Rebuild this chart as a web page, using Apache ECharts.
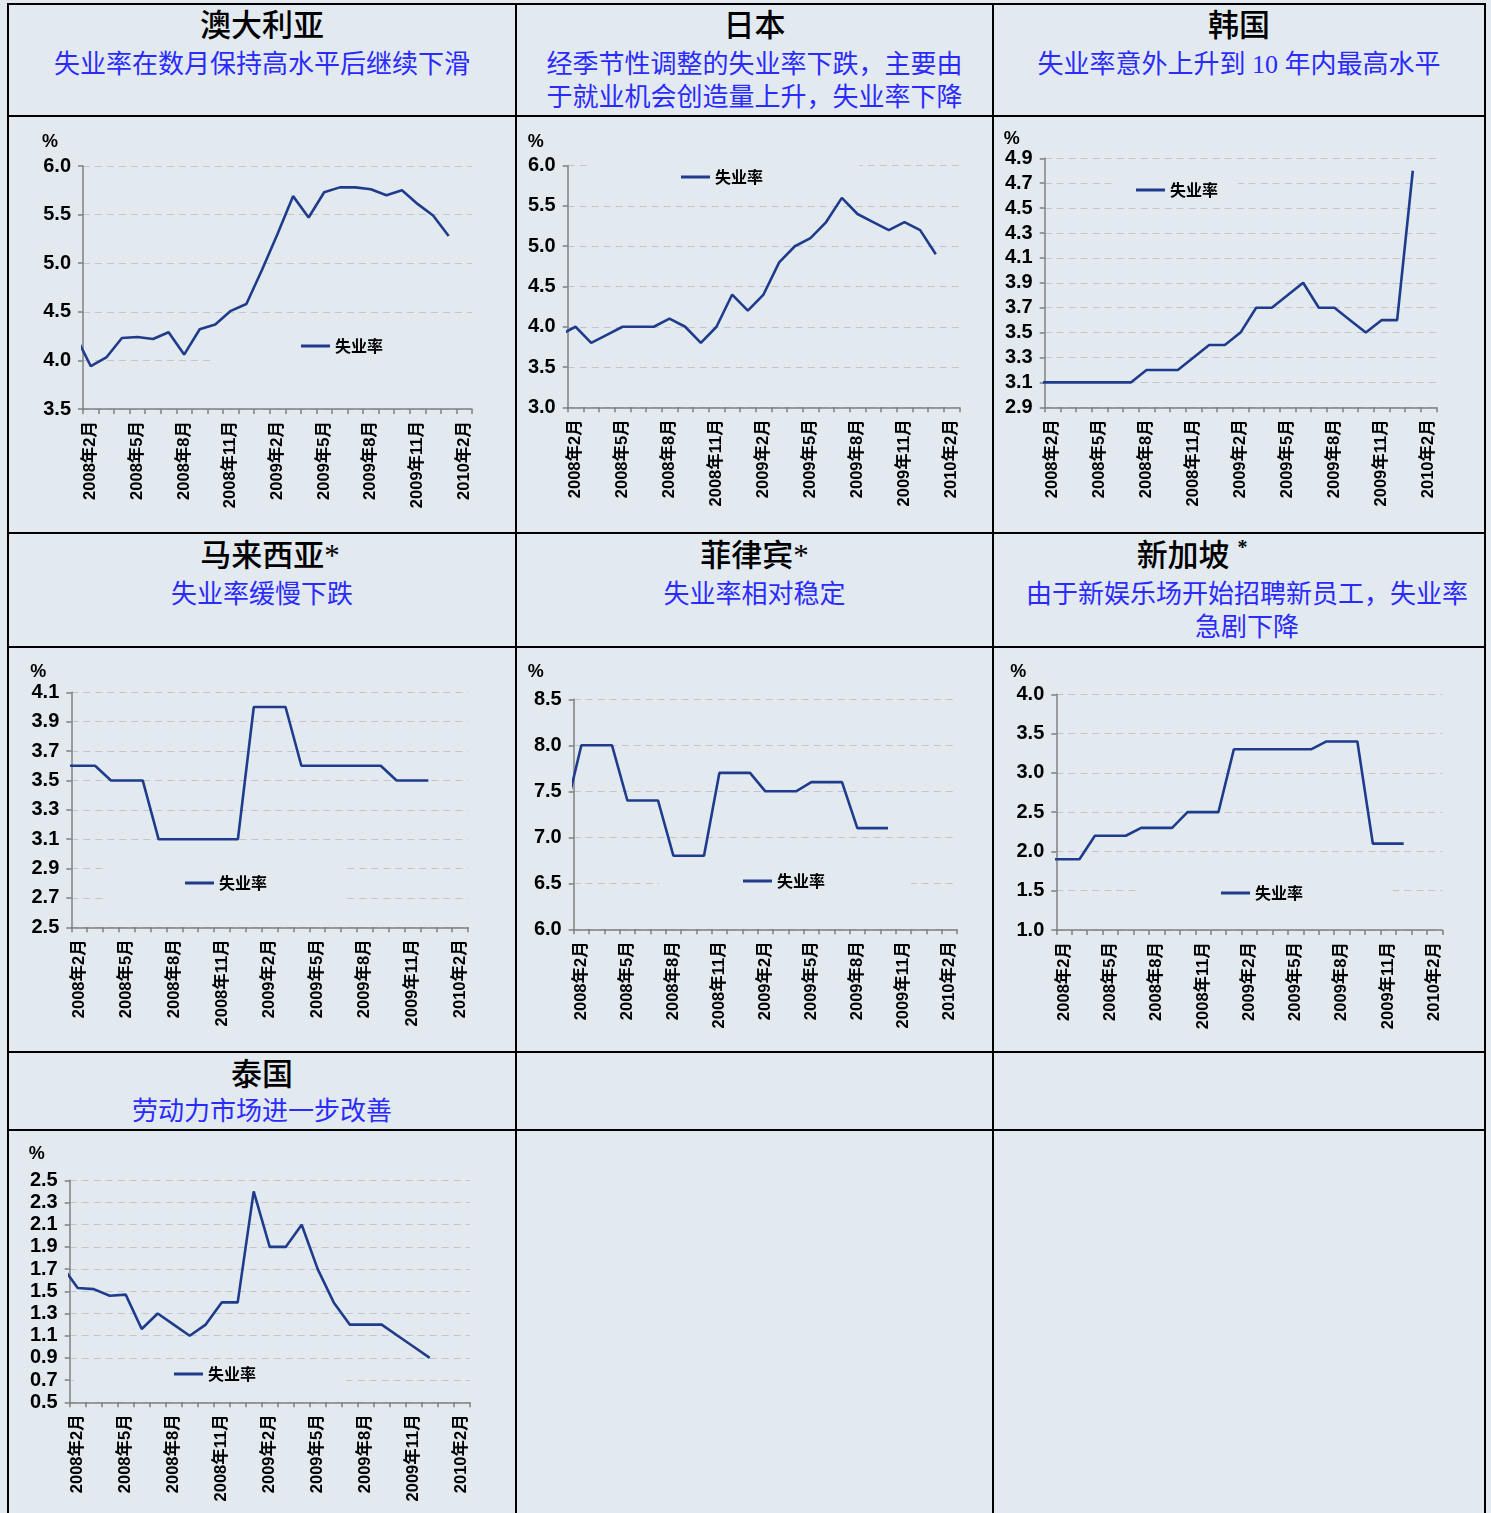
<!DOCTYPE html>
<html>
<head>
<meta charset="utf-8">
<title>亚洲及澳洲失业率</title>
<script src="https://cdn.jsdelivr.net/npm/echarts@6.0.0/dist/echarts.min.js"></script>
<style>
html, body { margin: 0; padding: 0; }
body {
    width: 1491px; height: 1513px; position: relative; overflow: hidden;
    background: #e2eaf0;
    font-family: 'Liberation Serif', 'Noto Sans CJK SC', serif;
}
.vl { position: absolute; width: 2px; top: 3px; height: 1510px; background: #000; }
.hl { position: absolute; height: 2px; left: 7px; width: 1479px; background: #000; }
.ttl { position: absolute; text-align: center; font-size: 31px; line-height: 34px; color: #000; font-weight: 500; }
.sub { position: absolute; text-align: center; font-size: 26px; line-height: 33px; color: #2b2bff; }
.chart { position: absolute; }
.star { font-size: 20px; font-weight: bold; position: relative; top: -12px; line-height: 0; }
</style>
</head>
<body>

<div class="vl" style="left:7px"></div>
<div class="vl" style="left:515px"></div>
<div class="vl" style="left:992px"></div>
<div class="vl" style="left:1484px"></div>
<div class="hl" style="top:3px"></div>
<div class="hl" style="top:115px"></div>
<div class="hl" style="top:532px"></div>
<div class="hl" style="top:646px"></div>
<div class="hl" style="top:1051px"></div>
<div class="hl" style="top:1129px"></div>

<!-- row 1 headers -->
<div class="ttl" style="left:9px;width:506px;top:9px">澳大利亚</div>
<div class="sub" style="left:9px;width:506px;top:48px">失业率在数月保持高水平后继续下滑</div>
<div class="ttl" style="left:517px;width:475px;top:9px">日本</div>
<div class="sub" style="left:517px;width:475px;top:48px">经季节性调整的失业率下跌，主要由<br>于就业机会创造量上升，失业率下降</div>
<div class="ttl" style="left:994px;width:490px;top:9px">韩国</div>
<div class="sub" style="left:994px;width:490px;top:48px">失业率意外上升到 10 年内最高水平</div>

<!-- row 2 headers -->
<div class="ttl" style="left:9px;width:506px;top:539px;padding-left:16px;box-sizing:border-box">马来西亚*</div>
<div class="sub" style="left:9px;width:506px;top:578px">失业率缓慢下跌</div>
<div class="ttl" style="left:517px;width:475px;top:539px">菲律宾*</div>
<div class="sub" style="left:517px;width:475px;top:578px">失业率相对稳定</div>
<div class="ttl" style="left:994px;width:490px;top:539px;padding-right:94px;box-sizing:border-box">新加坡 <span class="star">*</span></div>
<div class="sub" style="left:994px;width:490px;top:578px;padding-left:16px;box-sizing:border-box">由于新娱乐场开始招聘新员工，失业率<br>急剧下降</div>

<!-- row 3 headers -->
<div class="ttl" style="left:9px;width:506px;top:1058px">泰国</div>
<div class="sub" style="left:9px;width:506px;top:1095px">劳动力市场进一步改善</div>

<div id="c_au" class="chart" style="left:9px;top:117px;width:506px;height:415px"></div>
<div id="c_jp" class="chart" style="left:517px;top:117px;width:475px;height:415px"></div>
<div id="c_kr" class="chart" style="left:994px;top:117px;width:490px;height:415px"></div>
<div id="c_my" class="chart" style="left:9px;top:648px;width:506px;height:403px"></div>
<div id="c_ph" class="chart" style="left:517px;top:648px;width:475px;height:403px"></div>
<div id="c_sg" class="chart" style="left:994px;top:648px;width:490px;height:403px"></div>
<div id="c_th" class="chart" style="left:9px;top:1131px;width:506px;height:382px"></div>

<script>
// months, first one (2008年1月) sits just left of the axis and is clipped
var months = ['2008年1月','2008年2月','2008年3月','2008年4月','2008年5月','2008年6月',
    '2008年7月','2008年8月','2008年9月','2008年10月','2008年11月','2008年12月',
    '2009年1月','2009年2月','2009年3月','2009年4月','2009年5月','2009年6月',
    '2009年7月','2009年8月','2009年9月','2009年10月','2009年11月','2009年12月',
    '2010年1月','2010年2月'];

var seriesName = '失业率';

var auRate = [4.26,3.94,4.03,4.23,4.24,4.22,4.29,4.06,4.32,4.37,4.51,4.58,
              4.93,5.30,5.69,5.47,5.73,5.78,5.78,5.76,5.70,5.75,5.61,5.49,5.28];
var jpRate = [3.9,4.0,3.8,3.9,4.0,4.0,4.0,4.1,4.0,3.8,4.0,4.4,
              4.2,4.4,4.8,5.0,5.1,5.3,5.6,5.4,5.3,5.2,5.3,5.2,4.9];
var krRate = [3.1,3.1,3.1,3.1,3.1,3.1,3.1,3.2,3.2,3.2,3.3,3.4,
              3.4,3.5,3.7,3.7,3.8,3.9,3.7,3.7,3.6,3.5,3.6,3.6,4.8];
var myRate = [3.6,3.6,3.6,3.5,3.5,3.5,3.1,3.1,3.1,3.1,3.1,3.1,
              4.0,4.0,4.0,3.6,3.6,3.6,3.6,3.6,3.6,3.5,3.5,3.5];
var phRate = [7.3,8.0,8.0,8.0,7.4,7.4,7.4,6.8,6.8,6.8,7.7,7.7,
              7.7,7.5,7.5,7.5,7.6,7.6,7.6,7.1,7.1,7.1];
var sgRate = [1.9,1.9,1.9,2.2,2.2,2.2,2.3,2.3,2.3,2.5,2.5,2.5,
              3.3,3.3,3.3,3.3,3.3,3.3,3.4,3.4,3.4,2.1,2.1,2.1];
var thRate = [1.73,1.53,1.52,1.46,1.47,1.16,1.30,1.20,1.10,1.20,1.40,1.40,
              2.40,1.90,1.90,2.10,1.70,1.40,1.20,1.20,1.20,1.10,1.00,0.90];

var auTicks = [3.5,4.0,4.5,5.0,5.5,6.0];
var jpTicks = [3.0,3.5,4.0,4.5,5.0,5.5,6.0];
var krTicks = [2.9,3.1,3.3,3.5,3.7,3.9,4.1,4.3,4.5,4.7,4.9];
var myTicks = [2.5,2.7,2.9,3.1,3.3,3.5,3.7,3.9,4.1];
var phTicks = [6.0,6.5,7.0,7.5,8.0,8.5];
var sgTicks = [1.0,1.5,2.0,2.5,3.0,3.5,4.0];
var thTicks = [0.5,0.7,0.9,1.1,1.3,1.5,1.7,1.9,2.1,2.3,2.5];

var BG = '#e2eaf0';
var LINE_COLOR = '#1f3b8c';
var AXIS_COLOR = '#7f7f7f';
var LATIN = "'Liberation Sans', 'Noto Sans CJK SC', sans-serif";

// grid: [left, top, width, height]; pct: [nameGap, paddingRight]; legend: [left, top, padding]
function drawChart(id, rate, ticks, grid, pct, lg) {
    var chart = echarts.init(document.getElementById(id));
    chart.setOption({
        animation: false,
        backgroundColor: 'transparent',
        grid: {left: grid[0], top: grid[1], width: grid[2], height: grid[3],
               containLabel: false, outerBoundsMode: 'none'},
        legend: {
            data: [seriesName],
            left: lg[0], top: lg[1], padding: lg[2],
            backgroundColor: BG,
            z: 1,
            icon: 'rect', itemWidth: 29, itemHeight: 3,
            textStyle: {fontSize: 16, color: '#000', lineHeight: 18,
                        fontFamily: "'Noto Sans CJK SC', sans-serif", fontWeight: 'bold'}
        },
        xAxis: {
            type: 'category',
            data: months,
            min: 1,
            boundaryGap: true,
            axisLine: {show: true, lineStyle: {color: AXIS_COLOR, width: 1.5}},
            axisTick: {show: true, interval: 0, length: 5, lineStyle: {color: AXIS_COLOR, width: 1.5}},
            axisLabel: {
                interval: function (idx) { return (idx - 1) % 3 === 0; },
                rotate: 90, margin: 12,
                fontSize: 16.5, fontWeight: 'bold', color: '#000', fontFamily: LATIN
            },
            splitLine: {show: false}
        },
        yAxis: {
            type: 'value',
            min: ticks[0], max: ticks[ticks.length - 1],
            name: '%', nameLocation: 'end', nameGap: pct[0],
            nameTextStyle: {align: 'right', verticalAlign: 'middle', fontSize: 18,
                            fontWeight: 'bold', color: '#000', fontFamily: LATIN,
                            padding: [0, pct[1], 0, 0]},
            axisLine: {show: true, lineStyle: {color: AXIS_COLOR, width: 1.5}},
            axisTick: {show: true, length: 5, customValues: ticks,
                       lineStyle: {color: AXIS_COLOR, width: 1.5}},
            axisLabel: {customValues: ticks, margin: 12, fontSize: 20, fontWeight: 'bold',
                        color: '#000', fontFamily: LATIN,
                        formatter: function (v) { return v.toFixed(1); }},
            splitLine: {show: true, lineStyle: {color: '#c2c6ca', width: 1, type: [7, 5]}}
        },
        series: [{
            name: seriesName,
            type: 'line',
            data: rate,
            showSymbol: false,
            symbol: 'none',
            clip: true,
            z: 2,
            lineStyle: {color: LINE_COLOR, width: 2.6},
            itemStyle: {color: LINE_COLOR}
        }]
    });
}

drawChart('c_au', auRate, auTicks, [74, 49, 389, 243], [24, 25], [201, 206, [14, 90, 10, 91]]);
drawChart('c_jp', jpRate, jpTicks, [50.7, 48.7, 391.6, 241.6], [24, 24], [72, 43, [8, 96, 8, 92]]);
drawChart('c_kr', krRate, krTicks, [50.7, 41.3, 391.6, 249], [16, 25], [122, 58, [6, 20, 6, 20]]);
drawChart('c_my', myRate, myTicks, [62.3, 44.3, 396.7, 235], [20, 25], [96, 216, [10, 80, 10, 80]]);
drawChart('c_ph', phRate, phTicks, [56.7, 51.3, 383.3, 230], [27, 30], [142, 216, [8, 86, 8, 84]]);
drawChart('c_sg', sgRate, sgTicks, [62.3, 46.3, 386, 235.7], [22, 30], [142, 228, [8, 90, 8, 85]]);
drawChart('c_th', thRate, thTicks, [60.7, 49.3, 400, 222], [26, 25], [65, 230, [4, 90, 8, 100]]);
</script>
</body>
</html>
